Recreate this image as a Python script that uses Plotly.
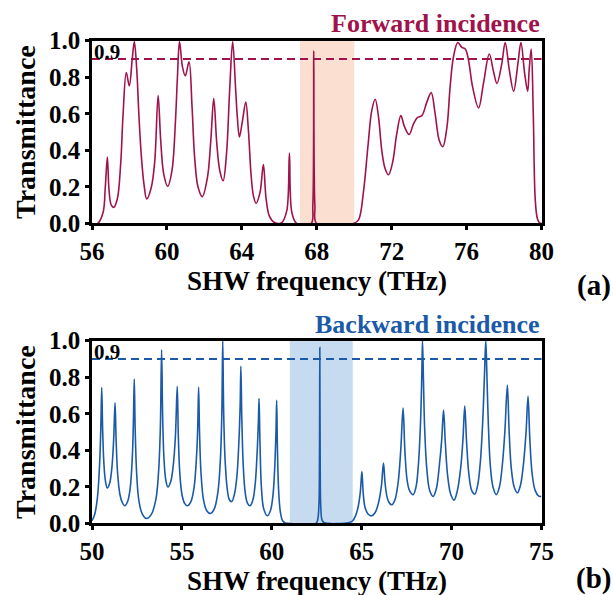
import plotly.graph_objects as go

# ---- Forward incidence spectrum (frequency in THz, transmittance) ----
freq_fwd = [
    56.0, 56.3, 56.59, 56.71, 56.82, 56.91, 57.03, 57.16,
    57.35, 57.53, 57.66, 57.83, 57.99, 58.14, 58.26, 58.39, 58.51, 58.64, 58.78, 58.92,
    59.17, 59.35, 59.53, 59.67, 59.83, 60.04,
    60.27, 60.45, 60.56, 60.67, 60.83, 60.98, 61.18, 61.34, 61.48, 61.66, 61.89,
    62.16, 62.34, 62.5, 62.66, 62.82, 63.0,
    63.18, 63.35, 63.51, 63.67, 63.76, 63.87,
    64.03, 64.21, 64.35, 64.49, 64.62, 64.76,
    64.97, 65.15, 65.29, 65.47, 65.74, 66.13,
    66.4, 66.54, 66.67, 66.93,
    67.7, 67.79, 67.84, 67.9, 68.0,
    69.96, 70.23, 70.5, 70.73, 70.94, 71.12, 71.3, 71.47, 71.65, 71.83,
    72.04, 72.27, 72.49, 72.68, 72.93, 73.17, 73.38, 73.61, 73.88, 74.11,
    74.32, 74.54, 74.73, 74.95, 75.12, 75.3, 75.53, 75.75, 75.93, 76.1,
    76.32, 76.64, 76.9, 77.21, 77.44, 77.62, 77.88, 78.06, 78.28, 78.51,
    78.74, 78.9, 79.1, 79.26, 79.34, 79.45, 79.56, 79.66, 79.77, 79.88, 80.0,
]
T_fwd = [
    0.0, 0.0, 0.06, 0.2, 0.363, 0.18, 0.10, 0.088,
    0.134, 0.326, 0.6, 0.826, 0.753, 0.89, 0.995, 0.84, 0.58, 0.36, 0.21, 0.134,
    0.2, 0.34, 0.70, 0.45, 0.27, 0.203,
    0.29, 0.55, 0.8, 0.995, 0.857, 0.808, 0.885, 0.64, 0.36, 0.2, 0.147,
    0.25, 0.45, 0.683, 0.44, 0.29, 0.234,
    0.38, 0.73, 0.995, 0.73, 0.58, 0.473,
    0.56, 0.665, 0.51, 0.27, 0.15, 0.11,
    0.17, 0.322, 0.14, 0.04, 0.005, 0.005,
    0.07, 0.385, 0.06, 0.0,
    0.0, 0.1, 0.945, 0.1, 0.0,
    0.0, 0.02, 0.18, 0.42, 0.62, 0.68, 0.58, 0.4, 0.3, 0.267,
    0.33, 0.49, 0.59, 0.53, 0.487, 0.546, 0.58, 0.59, 0.665, 0.716,
    0.6, 0.454, 0.42, 0.527, 0.747, 0.912, 0.99, 0.963, 0.955, 0.894,
    0.747, 0.632, 0.766, 0.927, 0.83, 0.766, 0.875, 0.99, 0.84, 0.723,
    0.875, 0.99, 0.82, 0.723, 0.84, 0.955, 0.6, 0.14, 0.03, 0.005, 0.0,
]

# ---- Backward incidence spectrum ----
freq_bwd = [
    50.0, 50.15, 50.3, 50.42, 50.49, 50.54, 50.59, 50.66, 50.75, 50.85,
    50.98, 51.1, 51.2, 51.28, 51.34, 51.42, 51.55, 51.68, 51.82,
    51.98, 52.12, 52.24, 52.3, 52.35, 52.4, 52.48, 52.6, 52.78, 53.02,
    53.3, 53.55, 53.7, 53.8, 53.87, 53.93, 54.0, 54.1, 54.22,
    54.38, 54.52, 54.64, 54.74, 54.8, 54.88, 55.0, 55.15, 55.3,
    55.5, 55.68, 55.82, 55.88, 55.93, 55.98, 56.06, 56.2, 56.38, 56.58,
    56.8, 57.0, 57.14, 57.22, 57.27, 57.32, 57.4, 57.52, 57.64, 57.77,
    57.92, 58.06, 58.17, 58.24, 58.28, 58.33, 58.41, 58.52, 58.65, 58.79,
    58.95, 59.08, 59.18, 59.25, 59.29, 59.34, 59.42, 59.55, 59.75,
    59.92, 60.06, 60.16, 60.23, 60.27, 60.31, 60.38, 60.48, 60.6, 60.75, 61.0,
    62.45, 62.55, 62.62, 62.65, 62.67, 62.69, 62.72, 62.79, 62.9,
    64.3, 64.5, 64.65, 64.8, 64.92, 65.01, 65.08, 65.18, 65.35, 65.55,
    65.75, 65.95, 66.1, 66.21, 66.3, 66.42, 66.55, 66.69,
    66.85, 67.02, 67.17, 67.3, 67.4, 67.52, 67.66, 67.86,
    68.02, 68.15, 68.27, 68.34, 68.38, 68.43, 68.5, 68.62, 68.78, 68.97,
    69.15, 69.32, 69.45, 69.55, 69.65, 69.78, 69.95, 70.14,
    70.32, 70.5, 70.63, 70.73, 70.83, 70.96, 71.12, 71.29,
    71.45, 71.6, 71.73, 71.83, 71.9, 71.96, 72.04, 72.15, 72.3, 72.49,
    72.66, 72.82, 72.96, 73.1, 73.2, 73.32, 73.48, 73.66,
    73.83, 74.0, 74.14, 74.25, 74.35, 74.48, 74.65, 74.85, 75.0,
]
T_bwd = [
    0.015, 0.05, 0.14, 0.32, 0.52, 0.744, 0.52, 0.33, 0.23, 0.194,
    0.22, 0.3, 0.45, 0.66, 0.46, 0.28, 0.16, 0.115, 0.097,
    0.12, 0.19, 0.36, 0.55, 0.79, 0.52, 0.28, 0.13, 0.055, 0.027,
    0.05, 0.13, 0.28, 0.52, 0.95, 0.58, 0.36, 0.24, 0.20,
    0.23, 0.32, 0.48, 0.75, 0.48, 0.28, 0.16, 0.11, 0.097,
    0.12, 0.2, 0.38, 0.53, 0.745, 0.5, 0.28, 0.13, 0.07, 0.055,
    0.08, 0.17, 0.35, 0.6, 1.0, 0.62, 0.35, 0.19, 0.13, 0.12,
    0.16, 0.26, 0.45, 0.65, 0.86, 0.58, 0.32, 0.17, 0.11, 0.097,
    0.13, 0.22, 0.38, 0.55, 0.683, 0.45, 0.2, 0.08, 0.042,
    0.07, 0.15, 0.3, 0.5, 0.674, 0.42, 0.18, 0.06, 0.015, 0.003, 0.0,
    0.0, 0.02, 0.1, 0.35, 0.963, 0.35, 0.1, 0.02, 0.005,
    0.005, 0.015, 0.04, 0.09, 0.17, 0.284, 0.17, 0.09, 0.052, 0.042,
    0.06, 0.12, 0.21, 0.33, 0.22, 0.14, 0.11, 0.103,
    0.13, 0.22, 0.4, 0.632, 0.4, 0.24, 0.18, 0.158,
    0.2, 0.32, 0.55, 0.8, 1.0, 0.8, 0.52, 0.3, 0.18, 0.148,
    0.19, 0.32, 0.46, 0.62, 0.44, 0.26, 0.16, 0.128,
    0.18, 0.3, 0.46, 0.643, 0.45, 0.27, 0.18, 0.161,
    0.21, 0.34, 0.56, 0.82, 1.0, 0.82, 0.55, 0.32, 0.2, 0.158,
    0.2, 0.32, 0.5, 0.757, 0.5, 0.3, 0.2, 0.168,
    0.21, 0.33, 0.5, 0.696, 0.46, 0.27, 0.18, 0.15, 0.148,
]

# Shaded frequency windows and reference level
band_fwd = [67.1, 70.0]
band_bwd = [61.0, 64.5]
threshold = 0.9

x_ticks_fwd = [56, 60, 64, 68, 72, 76, 80]
x_ticks_bwd = [50, 55, 60, 65, 70, 75]
y_ticks = [0.0, 0.2, 0.4, 0.6, 0.8, 1.0]

RED = "#A0124B"
BLUE = "#1A5AA8"
SERIF = "Liberation Serif"

fig = go.Figure()
fig.add_trace(go.Scatter(x=freq_fwd, y=T_fwd, mode="lines", xaxis="x", yaxis="y",
                         line=dict(color=RED, width=1.6, shape="spline", smoothing=1.0),
                         showlegend=False))
fig.add_trace(go.Scatter(x=freq_bwd, y=T_bwd, mode="lines", xaxis="x2", yaxis="y2",
                         line=dict(color=BLUE, width=1.6, shape="spline", smoothing=1.0),
                         showlegend=False))

axis_common = dict(showline=True, linewidth=2.5, linecolor="black", mirror=True,
                   ticks="outside", ticklen=4, tickwidth=2.5, tickcolor="black",
                   showgrid=False, zeroline=False, automargin=False,
                   tickfont=dict(family=SERIF, size=25, color="black", weight="bold"))
title_font = dict(family=SERIF, size=28, color="black", weight="bold")
xtitle_font = dict(family=SERIF, size=27, color="black", weight="bold")

fig.update_layout(
    width=613, height=595,
    margin=dict(l=0, r=0, t=0, b=0),
    paper_bgcolor="white", plot_bgcolor="white",
    xaxis=dict(domain=[0.1501, 0.8834], range=[56, 80], tickvals=x_ticks_fwd,
               anchor="y", **axis_common),
    yaxis=dict(domain=[0.6244, 0.9316], range=[0, 1], tickvals=y_ticks, tickformat=".1f",
               anchor="x", title=dict(text="Transmittance", font=title_font, standoff=6),
               **axis_common),
    xaxis2=dict(domain=[0.1501, 0.8834], range=[50, 75], tickvals=x_ticks_bwd,
                anchor="y2", **axis_common),
    yaxis2=dict(domain=[0.1202, 0.4274], range=[0, 1], tickvals=y_ticks, tickformat=".1f",
                anchor="x2", title=dict(text="Transmittance", font=title_font, standoff=6),
                **axis_common),
)

# Shaded windows (below the curves) and the 0.9 dashed reference lines
for xr, yr, band, fill, col in [("x", "y", band_fwd, "#FBDFD0", RED),
                                ("x2", "y2", band_bwd, "#C6DAF0", BLUE)]:
    fig.add_shape(type="rect", xref=xr, yref=f"{yr} domain", x0=band[0], x1=band[1],
                  y0=0, y1=1, fillcolor=fill, line_width=0, layer="below")
    fig.add_shape(type="line", xref=f"{xr} domain", yref=yr, x0=0, x1=1,
                  y0=threshold, y1=threshold, line=dict(color=col, width=2, dash="8px,5px"))
    fig.add_annotation(xref=f"{xr} domain", yref=yr, x=0.0, y=0.94, text="0.9",
                       showarrow=False, xanchor="left", yanchor="middle",
                       font=dict(family=SERIF, size=21, color="black", weight="bold"))

# x-axis titles placed just under the tick labels of each panel
for yp in (0.5285, 0.0235):
    fig.add_annotation(xref="paper", yref="paper", x=0.5168, y=yp,
                       text="SHW frequency (THz)", showarrow=False,
                       xanchor="center", yanchor="middle", font=xtitle_font)

fig.add_annotation(xref="paper", yref="paper", x=0.8834, y=0.9605, text="Forward incidence",
                   showarrow=False, xanchor="right", yanchor="middle",
                   font=dict(family=SERIF, size=26, color=RED, weight="bold"))
fig.add_annotation(xref="paper", yref="paper", x=0.8834, y=0.4545, text="Backward incidence",
                   showarrow=False, xanchor="right", yanchor="middle",
                   font=dict(family=SERIF, size=26, color=BLUE, weight="bold"))
fig.add_annotation(xref="paper", yref="paper", x=0.969, y=0.521, text="(a)",
                   showarrow=False, xanchor="center", yanchor="middle",
                   font=dict(family=SERIF, size=29, color="black", weight="bold"))
fig.add_annotation(xref="paper", yref="paper", x=0.969, y=0.027, text="(b)",
                   showarrow=False, xanchor="center", yanchor="middle",
                   font=dict(family=SERIF, size=29, color="black", weight="bold"))

fig.write_html("out.html")
